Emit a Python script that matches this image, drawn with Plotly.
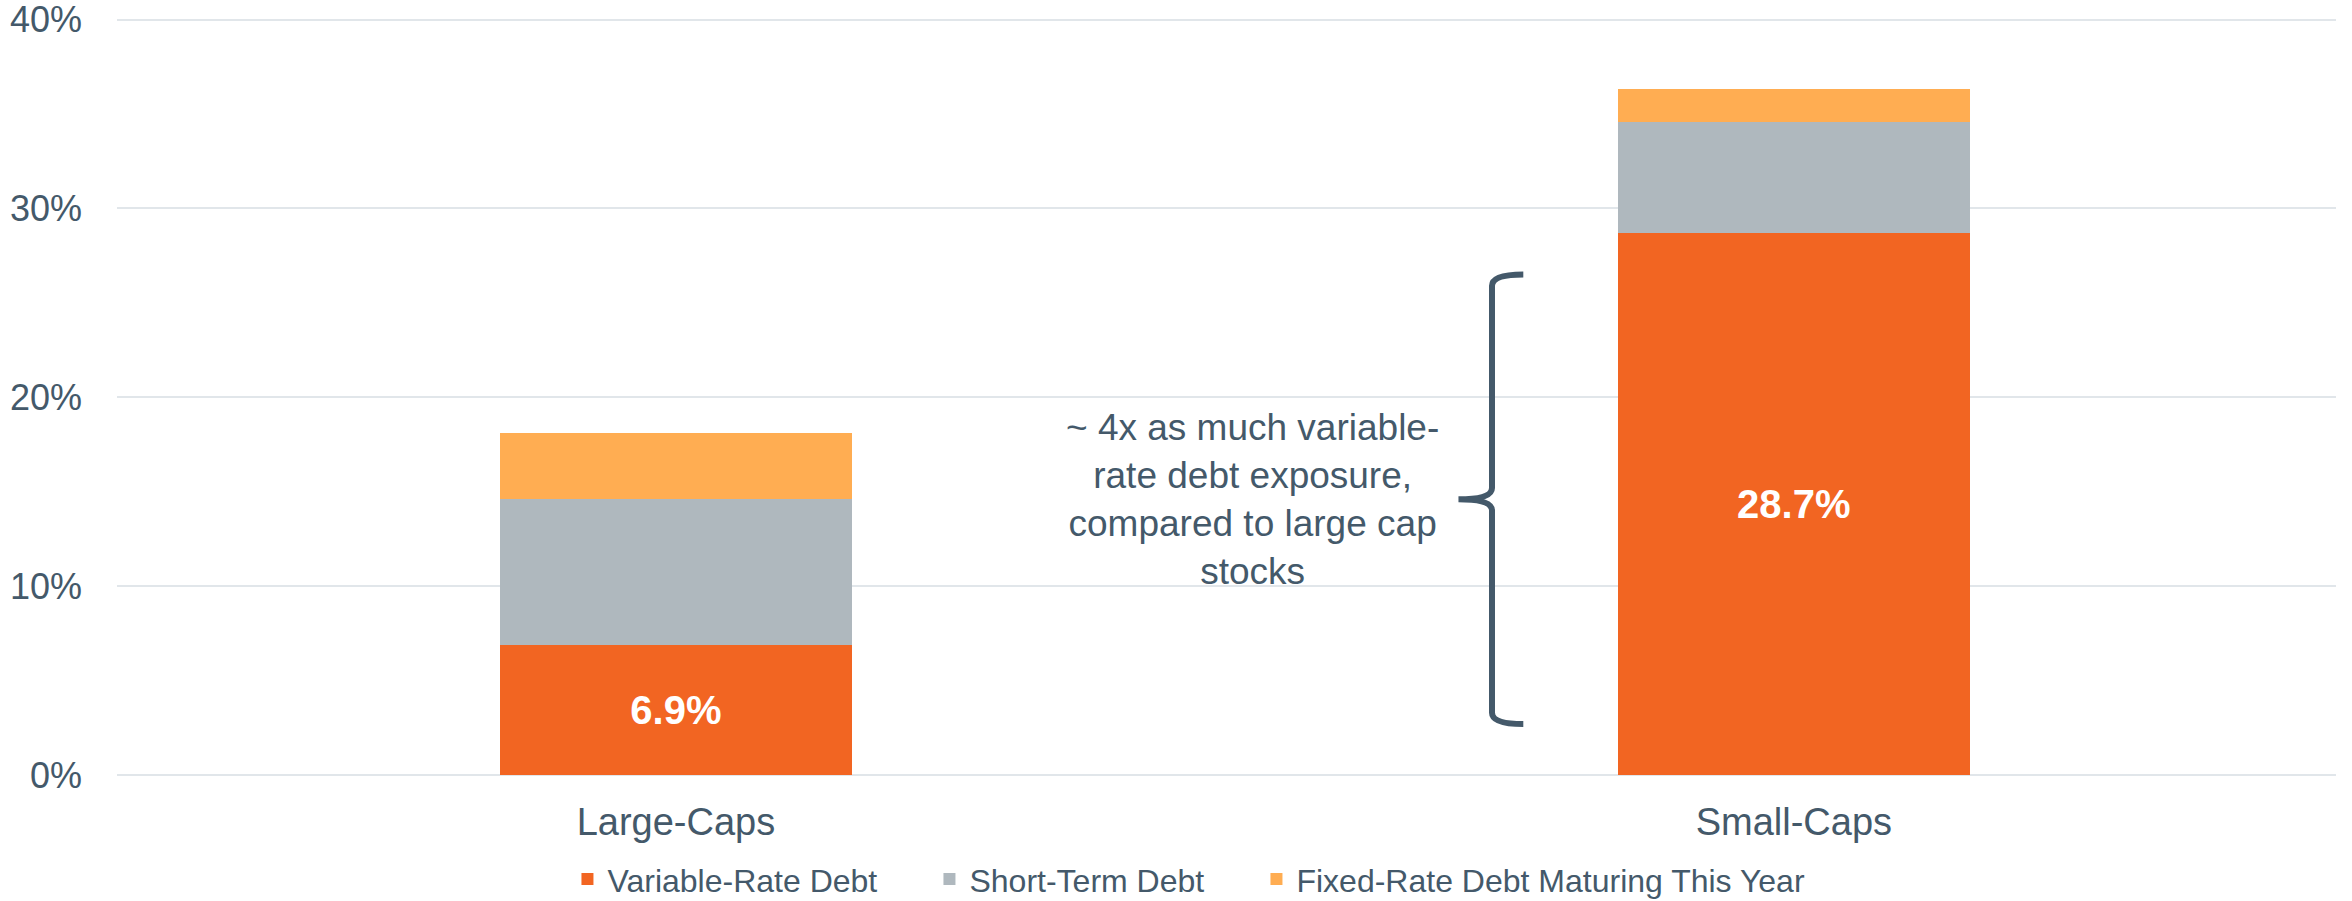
import plotly.graph_objects as go

categories = ["Large-Caps", "Small-Caps"]
variable_rate = [6.9, 28.7]
short_term = [7.7, 5.9]
fixed_maturing = [3.5, 1.7]
series_names = ["Variable-Rate Debt", "Short-Term Debt", "Fixed-Rate Debt Maturing This Year"]
y_ticks = [0, 10, 20, 30, 40]
y_tick_labels = ["0%", "10%", "20%", "30%", "40%"]
annotation_text = "~ 4x as much variable-<br>rate debt exposure,<br>compared to large cap<br>stocks"

TXT = "#44596A"
FONT = "Liberation Sans, Arial, sans-serif"
x_pos = list(range(len(categories)))

fig = go.Figure()
fig.add_trace(go.Bar(
    x=x_pos, y=variable_rate, name=series_names[0], width=0.315, legendwidth=317,
    marker=dict(color="#F26522", line=dict(width=0)),
    text=[f"{v}%" for v in variable_rate], textposition="inside",
    insidetextanchor="middle", constraintext="none",
    textfont=dict(color="white", size=40, family=FONT, weight="bold"),
))
fig.add_trace(go.Bar(
    x=x_pos, y=short_term, name=series_names[1], width=0.315, legendwidth=282,
    marker=dict(color="#AFB8BE", line=dict(width=0)),
))
fig.add_trace(go.Bar(
    x=x_pos, y=fixed_maturing, name=series_names[2], width=0.315, legendwidth=530,
    marker=dict(color="#FFAD52", line=dict(width=0)),
))

# curly brace annotation (data coordinates)
bx, tip, hook = 0.730, 0.700, 0.758
yt, yb, ym = 26.5, 2.7, 14.6
path = (f"M{hook},{yt} Q{bx},{yt} {bx},{yt-0.6} "
        f"L{bx},{ym+0.6} Q{bx},{ym} {tip},{ym} "
        f"Q{bx},{ym} {bx},{ym-0.6} "
        f"L{bx},{yb+0.6} Q{bx},{yb} {hook},{yb}")
fig.add_shape(type="path", path=path, xref="x", yref="y",
              line=dict(color=TXT, width=6), layer="above")

fig.add_annotation(x=0.516, y=14.6, xref="x", yref="y", text=annotation_text,
                   showarrow=False, align="center",
                   font=dict(size=37, color=TXT, family=FONT))

fig.update_layout(
    barmode="stack",
    width=2352, height=901,
    margin=dict(l=117, r=16, t=12, b=125.5, autoexpand=False),
    plot_bgcolor="white", paper_bgcolor="white",
    font=dict(family=FONT, color=TXT),
    showlegend=True,
    legend=dict(orientation="h", x=0.203, xanchor="left", y=-0.1367, yanchor="middle",
                font=dict(size=32, color=TXT, family=FONT), traceorder="normal",
                itemwidth=30),
    xaxis=dict(range=[-0.5, 1.485], tickvals=x_pos, ticktext=categories,
               showgrid=False, zeroline=False, showline=False, automargin=False,
               tickfont=dict(size=38, color=TXT, family=FONT), ticklabelstandoff=21),
    yaxis=dict(range=[0, 40.4], tickvals=y_ticks, ticktext=y_tick_labels,
               showgrid=True, gridcolor="#E1E6EA", gridwidth=2, automargin=False,
               zeroline=True, zerolinecolor="#E1E6EA", zerolinewidth=2,
               showline=False, tickfont=dict(size=36, color=TXT, family=FONT),
               ticklabelstandoff=34, ticklabeloverflow="allow"),
)

# remove the browser's default 8px body margin so the figure fills the window exactly
fig.write_html("out.html", config={"displayModeBar": False},
               post_script="document.body.style.margin='0';document.body.style.overflow='hidden';")
